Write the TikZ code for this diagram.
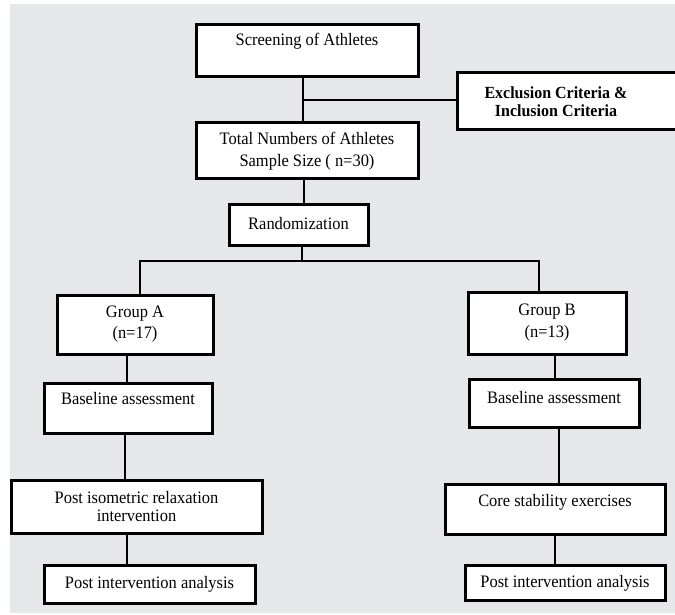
\documentclass[tikz,border=0pt]{standalone}
\usepackage{fontspec}
\setmainfont{Liberation Serif}[FakeStretch=0.94]
\definecolor{bggray}{RGB}{230,231,233}
\begin{document}
\begin{tikzpicture}[x=1pt,y=-1pt,
  box/.style={draw=black, line width=3pt, fill=white, inner sep=0pt,
    font=\fontsize{17.5}{20}\selectfont},
  topbox/.style={box, anchor=north},
  conn/.style={draw=black, line width=2.8pt}]
\clip (0,0) rectangle (675,615);
\fill[white] (0,0) rectangle (675,615);
\fill[bggray] (10,4) rectangle (675,613);

% top part
\node[topbox, minimum width=222pt, text height=21pt, text depth=31pt] (scr) at (307,23) {Screening of Athletes};
\node[box, align=center, minimum width=222pt, minimum height=56pt,
  font=\fontsize{17.5}{22}\selectfont] (tot) at (307,151) {Total Numbers of Athletes\\Sample Size ( n=30)};
\node[box, align=center, minimum width=243pt, minimum height=57pt,
  font=\bfseries\fontsize{17}{18}\selectfont] (excl) at (578.5,101.5)
  {Exclusion Criteria \&\hspace*{45pt}\\Inclusion Criteria\hspace*{45pt}};
\node[topbox, minimum width=139pt, text height=25pt, text depth=16pt] (rand) at (298.5,203) {Randomization};

% groups
\node[box, align=center, minimum width=156pt, minimum height=59pt,
  font=\fontsize{17.5}{21}\selectfont] (gA) at (135,324.5) {Group A\\(n=17)};
\node[box, align=center, minimum width=158pt, minimum height=62pt,
  font=\fontsize{17.5}{22}\selectfont] (gB) at (547,323) {Group B\\(n=13)};

% left column
\node[topbox, minimum width=168pt, text height=21pt, text depth=29pt] (bA) at (128,382) {Baseline assessment};
\node[box, align=center, minimum width=251pt, minimum height=53pt,
  font=\fontsize{17.5}{18}\selectfont] (iso) at (136.5,506.5) {Post isometric relaxation\\intervention};
\node[topbox, minimum width=211pt, text height=23pt, text depth=15pt] (pA) at (149.5,564) {Post intervention analysis};

% right column
\node[topbox, minimum width=170pt, text height=24pt, text depth=24pt] (bB) at (554,378) {Baseline assessment};
\node[topbox, minimum width=220pt, text height=22pt, text depth=28pt] (core) at (555,483) {Core stability exercises};
\node[topbox, minimum width=200pt, text height=22pt, text depth=13pt] (pB) at (565,564) {Post intervention analysis};

% connectors
\coordinate (ej) at (303,100);
\coordinate (br) at (302,261);
\draw[conn] ([xshift=-4pt]scr.south) -- ([xshift=-4pt]scr.south |- tot.north);
\draw[conn] (ej) -- (ej -| excl.west);
\draw[conn] ([xshift=-3pt]tot.south) -- ([xshift=-3pt]tot.south |- rand.north);
\draw[conn] ([xshift=3.5pt]rand.south) -- ([xshift=3.5pt]rand.south |- br);
\draw[conn] ([xshift=5pt]gA.north) |- (br) -| ([xshift=-8pt]gB.north);
\draw[conn] ([xshift=-8pt]gA.south) -- ([xshift=-8pt]gA.south |- bA.north);
\draw[conn] ([xshift=-3pt]bA.south) -- ([xshift=-3pt]bA.south |- iso.north);
\draw[conn] ([xshift=-9.5pt]iso.south) -- ([xshift=-9.5pt]iso.south |- pA.north);
\draw[conn] ([xshift=8pt]gB.south) -- ([xshift=8pt]gB.south |- bB.north);
\draw[conn] ([xshift=5pt]bB.south) -- ([xshift=5pt]bB.south |- core.north);
\draw[conn] (core.south) -- (core.south |- pB.north);
\end{tikzpicture}
\end{document}
